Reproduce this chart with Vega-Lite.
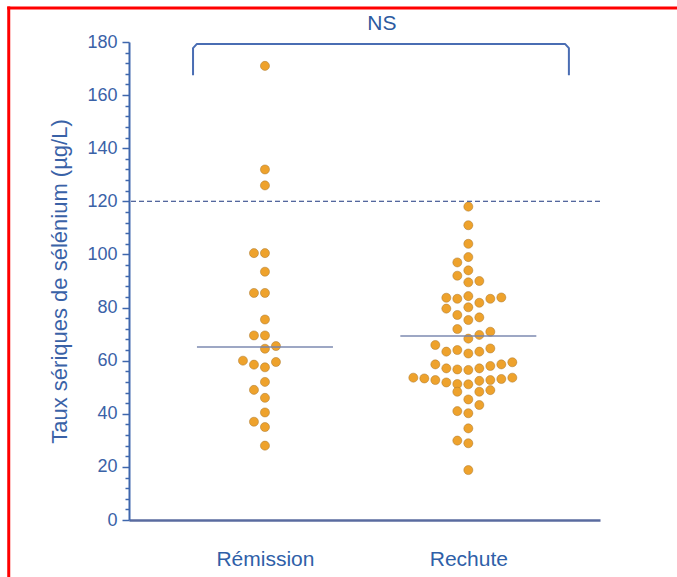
{
  "$schema": "https://vega.github.io/schema/vega-lite/v6.json",
  "width": 471,
  "height": 478,
  "autosize": {"type": "none"},
  "padding": {"left": 129, "top": 42, "right": 77, "bottom": 57},
  "background": "white",
  "config": {"view": {"stroke": null}, "font": "Liberation Sans"},
  "datasets": {
    "pts": [
      {"g": "Rémission", "v": 171, "s": 0},
      {"g": "Rémission", "v": 132, "s": 0},
      {"g": "Rémission", "v": 126, "s": 0},
      {"g": "Rémission", "v": 100.5, "s": -1},
      {"g": "Rémission", "v": 100.5, "s": 0},
      {"g": "Rémission", "v": 93.5, "s": 0},
      {"g": "Rémission", "v": 85.5, "s": -1},
      {"g": "Rémission", "v": 85.5, "s": 0},
      {"g": "Rémission", "v": 75.5, "s": 0},
      {"g": "Rémission", "v": 69.5, "s": -1},
      {"g": "Rémission", "v": 69.5, "s": 0},
      {"g": "Rémission", "v": 64.5, "s": 0},
      {"g": "Rémission", "v": 65.5, "s": 1},
      {"g": "Rémission", "v": 60, "s": -2},
      {"g": "Rémission", "v": 58.5, "s": -1},
      {"g": "Rémission", "v": 57.5, "s": 0},
      {"g": "Rémission", "v": 59.5, "s": 1},
      {"g": "Rémission", "v": 52, "s": 0},
      {"g": "Rémission", "v": 49, "s": -1},
      {"g": "Rémission", "v": 46, "s": 0},
      {"g": "Rémission", "v": 40.5, "s": 0},
      {"g": "Rémission", "v": 37, "s": -1},
      {"g": "Rémission", "v": 35, "s": 0},
      {"g": "Rémission", "v": 28, "s": 0},
      {"g": "Rechute", "v": 118, "s": 0},
      {"g": "Rechute", "v": 111, "s": 0},
      {"g": "Rechute", "v": 104, "s": 0},
      {"g": "Rechute", "v": 99, "s": 0},
      {"g": "Rechute", "v": 97, "s": -1},
      {"g": "Rechute", "v": 94, "s": 0},
      {"g": "Rechute", "v": 92, "s": -1},
      {"g": "Rechute", "v": 89.5, "s": 0},
      {"g": "Rechute", "v": 90, "s": 1},
      {"g": "Rechute", "v": 83.7, "s": -2},
      {"g": "Rechute", "v": 83.3, "s": -1},
      {"g": "Rechute", "v": 84.3, "s": 0},
      {"g": "Rechute", "v": 81.8, "s": 1},
      {"g": "Rechute", "v": 83.3, "s": 2},
      {"g": "Rechute", "v": 83.8, "s": 3},
      {"g": "Rechute", "v": 79.6, "s": -2},
      {"g": "Rechute", "v": 77.2, "s": -1},
      {"g": "Rechute", "v": 80.1, "s": 0},
      {"g": "Rechute", "v": 76.3, "s": 1},
      {"g": "Rechute", "v": 75.3, "s": 0},
      {"g": "Rechute", "v": 71.9, "s": -1},
      {"g": "Rechute", "v": 68.3, "s": 0},
      {"g": "Rechute", "v": 69.7, "s": 1},
      {"g": "Rechute", "v": 70.9, "s": 2},
      {"g": "Rechute", "v": 65.9, "s": -3},
      {"g": "Rechute", "v": 63.4, "s": -2},
      {"g": "Rechute", "v": 64.0, "s": -1},
      {"g": "Rechute", "v": 62.7, "s": 0},
      {"g": "Rechute", "v": 63.4, "s": 1},
      {"g": "Rechute", "v": 64.6, "s": 2},
      {"g": "Rechute", "v": 58.6, "s": -3},
      {"g": "Rechute", "v": 57.1, "s": -2},
      {"g": "Rechute", "v": 56.7, "s": -1},
      {"g": "Rechute", "v": 56.5, "s": 0},
      {"g": "Rechute", "v": 57.1, "s": 1},
      {"g": "Rechute", "v": 58.0, "s": 2},
      {"g": "Rechute", "v": 58.6, "s": 3},
      {"g": "Rechute", "v": 59.4, "s": 4},
      {"g": "Rechute", "v": 53.6, "s": -5},
      {"g": "Rechute", "v": 53.3, "s": -4},
      {"g": "Rechute", "v": 52.7, "s": -3},
      {"g": "Rechute", "v": 51.8, "s": -2},
      {"g": "Rechute", "v": 51.2, "s": -1},
      {"g": "Rechute", "v": 51.1, "s": 0},
      {"g": "Rechute", "v": 52.4, "s": 1},
      {"g": "Rechute", "v": 52.7, "s": 2},
      {"g": "Rechute", "v": 53.1, "s": 3},
      {"g": "Rechute", "v": 53.6, "s": 4},
      {"g": "Rechute", "v": 48.3, "s": -1},
      {"g": "Rechute", "v": 48.3, "s": 1},
      {"g": "Rechute", "v": 48.9, "s": 2},
      {"g": "Rechute", "v": 45.4, "s": 0},
      {"g": "Rechute", "v": 43.3, "s": 1},
      {"g": "Rechute", "v": 41.0, "s": -1},
      {"g": "Rechute", "v": 40.2, "s": 0},
      {"g": "Rechute", "v": 34.5, "s": 0},
      {"g": "Rechute", "v": 29.9, "s": -1},
      {"g": "Rechute", "v": 28.9, "s": 0},
      {"g": "Rechute", "v": 18.8, "s": 0}
    ],
    "med": [
      {"g": "Rémission", "v": 65.1},
      {"g": "Rechute", "v": 69.3}
    ],
    "br": [
      {"bx": 0.646, "v": 167.5, "o": 1},
      {"bx": 0.646, "v": 177.7, "o": 2},
      {"bx": 0.664, "v": 179.2, "o": 3},
      {"bx": 2.477, "v": 179.2, "o": 4},
      {"bx": 2.495, "v": 177.7, "o": 5},
      {"bx": 2.495, "v": 167.5, "o": 6}
    ],
    "ns": [{"bx": 1.575, "v": 184.5, "t": "NS"}],
    "frame": [
      {"bx": -0.268, "bx2": 3.1, "v": 192.8, "v2": 192.8},
      {"bx": -0.2606, "bx2": -0.2606, "v": 193.4, "v2": -30}
    ]
  },
  "layer": [
    {
      "data": {"name": "pts"},
      "mark": {"type": "circle", "size": 82, "color": "#eea22c", "opacity": 1, "stroke": "#a8772c", "strokeWidth": 0.5},
      "encoding": {
        "x": {
          "field": "g", "type": "nominal",
          "scale": {"type": "point", "domain": ["Rémission", "Rechute"], "padding": 0.658, "align": 0.508},
          "axis": {
            "title": null, "labelFontSize": 21, "labelColor": "#2f5fa8", "ticks": false, "tickSize": 0,
            "labelPadding": 28, "domainColor": "#5a6b9f", "domainWidth": 2.5, "labelAngle": 0, "grid": false
          }
        },
        "xOffset": {
          "field": "s", "type": "ordinal",
          "scale": {"type": "point", "domain": [-5, -4, -3, -2, -1, 0, 1, 2, 3, 4], "range": [-55, 44], "padding": 0}
        },
        "y": {
          "field": "v", "type": "quantitative",
          "scale": {"domain": [0, 180], "nice": false, "zero": true},
          "axis": {
            "title": "Taux sériques de sélénium (µg/L)",
            "values": [0,4,8,12,16,20,24,28,32,36,40,44,48,52,56,60,64,68,72,76,80,84,88,92,96,100,104,108,112,116,120,124,128,132,136,140,144,148,152,156,160,164,168,172,176,180],
            "labelExpr": "datum.value % 20 === 0 ? datum.label : ''",
            "labelOverlap": false,
            "tickSize": {"condition": {"test": "datum.value % 20 === 0", "value": 7}, "value": 4},
            "labelFontSize": 18, "labelColor": "#3a62a7", "labelPadding": 5,
            "domainColor": "#3f67ad", "domainWidth": 2, "tickColor": "#3f67ad", "tickWidth": 1.5,
            "titleFontSize": 22, "titleColor": "#3a62a7", "titleFontWeight": "normal", "titlePadding": 15,
            "grid": false
          }
        }
      }
    },
    {
      "data": {"name": "med"},
      "mark": {"type": "tick", "size": 136, "thickness": 2, "color": "#7482ab"},
      "encoding": {
        "x": {
          "field": "g", "type": "nominal",
          "scale": {"type": "point", "domain": ["Rémission", "Rechute"], "padding": 0.658, "align": 0.508},
          "axis": null
        },
        "y": {
          "field": "v", "type": "quantitative",
          "axis": {
            "title": "Taux sériques de sélénium (µg/L)",
            "values": [0,4,8,12,16,20,24,28,32,36,40,44,48,52,56,60,64,68,72,76,80,84,88,92,96,100,104,108,112,116,120,124,128,132,136,140,144,148,152,156,160,164,168,172,176,180],
            "labelExpr": "datum.value % 20 === 0 ? datum.label : ''",
            "labelOverlap": false,
            "tickSize": {"condition": {"test": "datum.value % 20 === 0", "value": 7}, "value": 4},
            "labelFontSize": 18, "labelColor": "#3a62a7", "labelPadding": 5,
            "domainColor": "#3f67ad", "domainWidth": 2, "tickColor": "#3f67ad", "tickWidth": 1.5,
            "titleFontSize": 22, "titleColor": "#3a62a7", "titleFontWeight": "normal", "titlePadding": 15,
            "grid": false
          }
        }
      }
    },
    {
      "data": {"name": "med"},
      "mark": {"type": "rule", "strokeDash": [5, 3], "color": "#50639c", "strokeWidth": 1},
      "encoding": {
        "y": {
          "datum": 120, "type": "quantitative",
          "axis": {
            "title": "Taux sériques de sélénium (µg/L)",
            "values": [0,4,8,12,16,20,24,28,32,36,40,44,48,52,56,60,64,68,72,76,80,84,88,92,96,100,104,108,112,116,120,124,128,132,136,140,144,148,152,156,160,164,168,172,176,180],
            "labelExpr": "datum.value % 20 === 0 ? datum.label : ''",
            "labelOverlap": false,
            "tickSize": {"condition": {"test": "datum.value % 20 === 0", "value": 7}, "value": 4},
            "labelFontSize": 18, "labelColor": "#3a62a7", "labelPadding": 5,
            "domainColor": "#3f67ad", "domainWidth": 2, "tickColor": "#3f67ad", "tickWidth": 1.5,
            "titleFontSize": 22, "titleColor": "#3a62a7", "titleFontWeight": "normal", "titlePadding": 15,
            "grid": false
          }
        }
      }
    },
    {
      "data": {"name": "br"},
      "mark": {"type": "line", "color": "#4a6db3", "strokeWidth": 2, "strokeJoin": "round"},
      "encoding": {
        "x": {"field": "bx", "type": "quantitative", "scale": {"domain": [0.331, 2.648], "nice": false, "zero": false}, "axis": null},
        "y": {
          "field": "v", "type": "quantitative",
          "axis": {
            "title": "Taux sériques de sélénium (µg/L)",
            "values": [0,4,8,12,16,20,24,28,32,36,40,44,48,52,56,60,64,68,72,76,80,84,88,92,96,100,104,108,112,116,120,124,128,132,136,140,144,148,152,156,160,164,168,172,176,180],
            "labelExpr": "datum.value % 20 === 0 ? datum.label : ''",
            "labelOverlap": false,
            "tickSize": {"condition": {"test": "datum.value % 20 === 0", "value": 7}, "value": 4},
            "labelFontSize": 18, "labelColor": "#3a62a7", "labelPadding": 5,
            "domainColor": "#3f67ad", "domainWidth": 2, "tickColor": "#3f67ad", "tickWidth": 1.5,
            "titleFontSize": 22, "titleColor": "#3a62a7", "titleFontWeight": "normal", "titlePadding": 15,
            "grid": false
          }
        },
        "order": {"field": "o", "type": "quantitative"}
      }
    },
    {
      "data": {"name": "ns"},
      "mark": {"type": "text", "fontSize": 21, "color": "#2c5aa0", "baseline": "alphabetic", "align": "center"},
      "encoding": {
        "x": {"field": "bx", "type": "quantitative", "scale": {"domain": [0.331, 2.648], "nice": false, "zero": false}, "axis": null},
        "y": {
          "field": "v", "type": "quantitative",
          "axis": {
            "title": "Taux sériques de sélénium (µg/L)",
            "values": [0,4,8,12,16,20,24,28,32,36,40,44,48,52,56,60,64,68,72,76,80,84,88,92,96,100,104,108,112,116,120,124,128,132,136,140,144,148,152,156,160,164,168,172,176,180],
            "labelExpr": "datum.value % 20 === 0 ? datum.label : ''",
            "labelOverlap": false,
            "tickSize": {"condition": {"test": "datum.value % 20 === 0", "value": 7}, "value": 4},
            "labelFontSize": 18, "labelColor": "#3a62a7", "labelPadding": 5,
            "domainColor": "#3f67ad", "domainWidth": 2, "tickColor": "#3f67ad", "tickWidth": 1.5,
            "titleFontSize": 22, "titleColor": "#3a62a7", "titleFontWeight": "normal", "titlePadding": 15,
            "grid": false
          }
        },
        "text": {"field": "t"}
      }
    },
    {
      "data": {"name": "frame"},
      "mark": {"type": "rule", "color": "#ff0000", "strokeWidth": 3, "strokeCap": "butt"},
      "encoding": {
        "x": {"field": "bx", "type": "quantitative", "scale": {"domain": [0.331, 2.648], "nice": false, "zero": false}, "axis": null},
        "x2": {"field": "bx2"},
        "y": {
          "field": "v", "type": "quantitative",
          "axis": {
            "title": "Taux sériques de sélénium (µg/L)",
            "values": [0,4,8,12,16,20,24,28,32,36,40,44,48,52,56,60,64,68,72,76,80,84,88,92,96,100,104,108,112,116,120,124,128,132,136,140,144,148,152,156,160,164,168,172,176,180],
            "labelExpr": "datum.value % 20 === 0 ? datum.label : ''",
            "labelOverlap": false,
            "tickSize": {"condition": {"test": "datum.value % 20 === 0", "value": 7}, "value": 4},
            "labelFontSize": 18, "labelColor": "#3a62a7", "labelPadding": 5,
            "domainColor": "#3f67ad", "domainWidth": 2, "tickColor": "#3f67ad", "tickWidth": 1.5,
            "titleFontSize": 22, "titleColor": "#3a62a7", "titleFontWeight": "normal", "titlePadding": 15,
            "grid": false
          }
        },
        "y2": {"field": "v2"}
      }
    }
  ],
  "resolve": {"scale": {"x": "independent"}}
}
